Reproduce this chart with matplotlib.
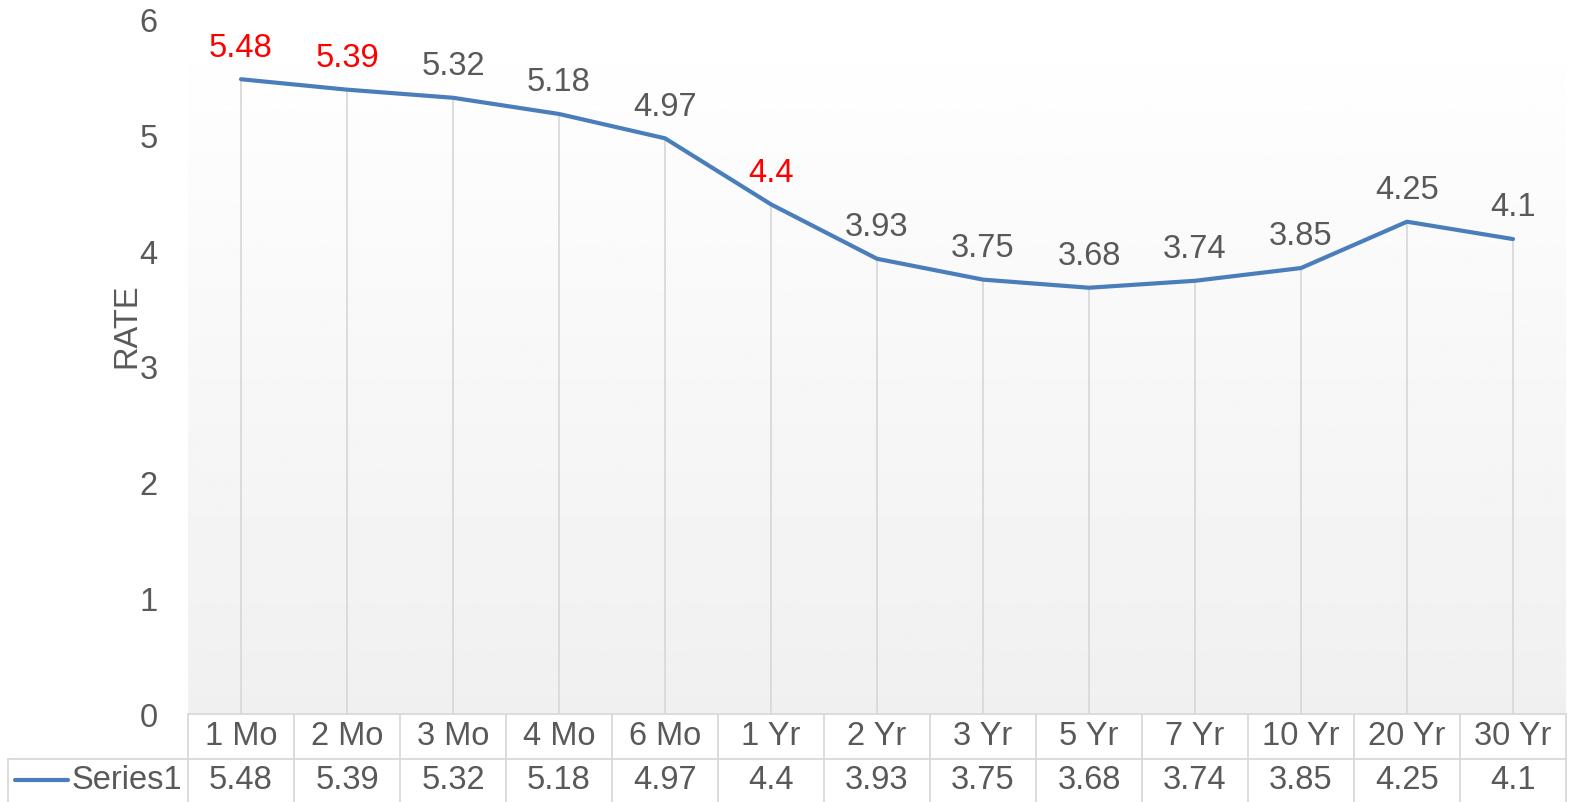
import matplotlib.pyplot as plt
import numpy as np
from matplotlib.transforms import blended_transform_factory

# data
categories = ['1 Mo', '2 Mo', '3 Mo', '4 Mo', '6 Mo', '1 Yr', '2 Yr', '3 Yr',
              '5 Yr', '7 Yr', '10 Yr', '20 Yr', '30 Yr']
rates = [5.48, 5.39, 5.32, 5.18, 4.97, 4.4, 3.93, 3.75, 3.68, 3.74, 3.85, 4.25, 4.1]
red_labels = ['1 Mo', '2 Mo', '1 Yr']
series_name = 'Series1'
value_labels = ['5.48', '5.39', '5.32', '5.18', '4.97', '4.4', '3.93', '3.75',
                '3.68', '3.74', '3.85', '4.25', '4.1']

plt.rcParams['font.family'] = ['Liberation Sans', 'DejaVu Sans']
W, H = 1569, 803
text_gray = '#595959'
grid_gray = '#d9d9d9'
line_blue = '#4a7ebb'
fs = 23.5

fig = plt.figure(figsize=(W / 100, H / 100), dpi=100)
left, right, top, bottom = 188, 1566, 20, 715
ax = fig.add_axes([left / W, 1 - bottom / H, (right - left) / W, (bottom - top) / H])

n = len(categories)
x = np.arange(n)
ax.set_xlim(-0.5, n - 0.5)
ax.set_ylim(0, 6)

# gradient plot area
grad = np.linspace(0.94, 1.0, 256).reshape(-1, 1)
ax.imshow(grad, cmap='gray', vmin=0, vmax=1, aspect='auto',
          extent=(-0.5, n - 0.5, 0, 6), origin='lower', zorder=0)

# drop lines
ax.vlines(x, 0, rates, color=grid_gray, lw=1.3, zorder=1)
ax.plot(x, rates, color=line_blue, lw=3, solid_capstyle='round', zorder=3)

for xi, cat, r, lab in zip(x, categories, rates, value_labels):
    col = 'red' if cat in red_labels else text_gray
    ax.annotate(lab, (xi, r), xytext=(0, 12), textcoords='offset points',
                ha='center', va='bottom', fontsize=fs, color=col)

for s in ax.spines.values():
    s.set_visible(False)
ax.set_xticks([])
ax.set_yticks(range(7))
ax.tick_params(axis='y', length=0, pad=22, labelsize=fs, labelcolor=text_gray)
ax.set_ylabel('RATE', fontsize=fs, color=text_gray)
ax.yaxis.set_label_coords(-0.0334, 0.56)

# data table below the axis
trans = blended_transform_factory(ax.transData, ax.transAxes)
ph = bottom - top


def ya(py):
    return (bottom - py) / ph


row1_mid, row_split, row2_mid, tbl_bot = 737, 760, 781, 803
edges = np.arange(n + 1) - 0.5
ax.plot([edges[0], edges[-1]], [ya(bottom)] * 2, transform=trans,
        color=grid_gray, lw=1.3, clip_on=False)
ax.plot([edges[0], edges[-1]], [ya(row_split)] * 2, transform=trans,
        color=grid_gray, lw=1.3, clip_on=False)
for e in edges:
    ax.plot([e, e], [ya(bottom), ya(tbl_bot)], transform=trans,
            color=grid_gray, lw=1.3, clip_on=False)

# left header cell for the series
fig.add_artist(plt.Line2D([8 / W, left / W], [1 - row_split / H] * 2,
                          color=grid_gray, lw=1.3))
fig.add_artist(plt.Line2D([8 / W, 8 / W], [1 - row_split / H, 0],
                          color=grid_gray, lw=1.3))
fig.add_artist(plt.Line2D([15 / W, 68 / W], [1 - row2_mid / H] * 2,
                          color=line_blue, lw=3, solid_capstyle='round'))
fig.text(72 / W, 1 - row2_mid / H, series_name, ha='left', va='center',
         fontsize=fs, color=text_gray)

for xi, cat, lab in zip(x, categories, value_labels):
    ax.text(xi, ya(row1_mid), cat, transform=trans, ha='center', va='center',
            fontsize=fs, color=text_gray, clip_on=False)
    ax.text(xi, ya(row2_mid), lab, transform=trans, ha='center', va='center',
            fontsize=fs, color=text_gray, clip_on=False)

fig.savefig('out.png', dpi=100)
